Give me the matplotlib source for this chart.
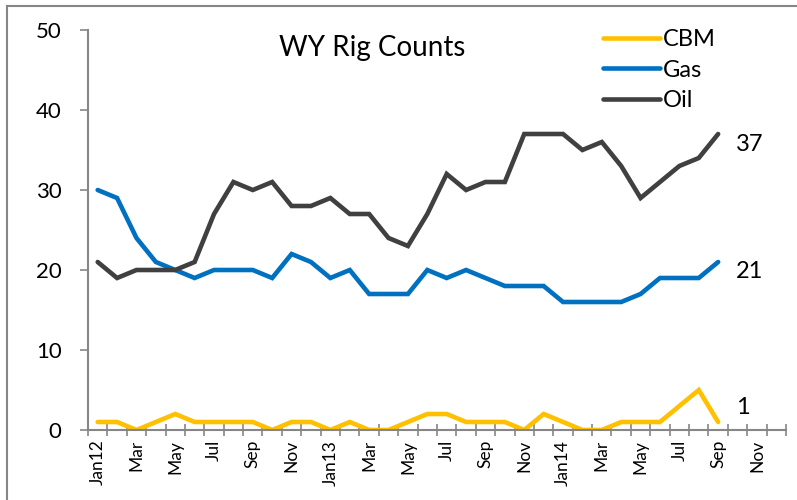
import matplotlib
matplotlib.use("Agg")
import matplotlib.pyplot as plt
import numpy as np
from matplotlib.lines import Line2D

plt.rcParams['font.family'] = ['Lato', 'DejaVu Sans']

# Monthly WY rig counts, Jan 2012 .. Sep 2014
months = ["Jan12", "Feb", "Mar", "Apr", "May", "Jun", "Jul", "Aug", "Sep", "Oct", "Nov", "Dec",
          "Jan13", "Feb", "Mar", "Apr", "May", "Jun", "Jul", "Aug", "Sep", "Oct", "Nov", "Dec",
          "Jan14", "Feb", "Mar", "Apr", "May", "Jun", "Jul", "Aug", "Sep", "Oct", "Nov", "Dec"]
cbm = [1, 1, 0, 1, 2, 1, 1, 1, 1, 0, 1, 1,
       0, 1, 0, 0, 1, 2, 2, 1, 1, 1, 0, 2,
       1, 0, 0, 1, 1, 1, 3, 5, 1]
gas = [30, 29, 24, 21, 20, 19, 20, 20, 20, 19, 22, 21,
       19, 20, 17, 17, 17, 20, 19, 20, 19, 18, 18, 18,
       16, 16, 16, 16, 17, 19, 19, 19, 21]
oil = [21, 19, 20, 20, 20, 21, 27, 31, 30, 31, 28, 28,
       29, 27, 27, 24, 23, 27, 32, 30, 31, 31, 37, 37,
       37, 35, 36, 33, 29, 31, 33, 34, 37]

series = [
    ("CBM", cbm, "#FFC000", (18, 14)),
    ("Gas", gas, "#0070C0", (18, -9)),
    ("Oil", oil, "#404040", (18, -11)),
]

axis_grey = "#868686"

fig = plt.figure(figsize=(7.97, 5.0), dpi=100)
ax = fig.add_axes([0.1104, 0.14, 0.8758, 0.80])

for name, vals, color, offs in series:
    x = np.arange(len(vals))
    ax.plot(x, vals, color=color, lw=3.3, label=name, solid_capstyle="round", solid_joinstyle="miter")
    ax.annotate(str(vals[-1]), xy=(x[-1], vals[-1]), xytext=offs, textcoords="offset pixels",
                ha="left", va="center", fontsize=17, color="black")

ax.set_xlim(-0.5, len(months) - 0.5)
ax.set_ylim(0, 50)
ax.set_yticks(np.arange(0, 51, 10))

# category labels every other month, tick marks on category boundaries
ax.set_xticks(np.arange(0, len(months), 2))
ax.set_xticklabels(months[::2], rotation=90, fontsize=12.5)
ax.set_xticks(np.arange(-0.5, len(months), 1), minor=True)
ax.tick_params(axis="x", which="major", length=0, pad=7)
ax.tick_params(axis="x", which="minor", direction="inout", length=8, width=1.2, color=axis_grey)
ax.tick_params(axis="y", direction="out", length=6, width=1.2, color=axis_grey, pad=13, labelsize=16)

for side in ["top", "right"]:
    ax.spines[side].set_visible(False)
for side in ["left", "bottom"]:
    ax.spines[side].set_color(axis_grey)
    ax.spines[side].set_linewidth(1.5)

ax.text(0.407, 0.955, "WY Rig Counts", transform=ax.transAxes, ha="center", va="center", fontsize=20)

ax.legend(loc="upper left", bbox_to_anchor=(0.738, 1.002), frameon=False, fontsize=17,
          handlelength=2.4, handletextpad=0.15, labelspacing=0.4, borderaxespad=0, borderpad=0)

# chart area border (runs off the right and bottom of the image)
fig.add_artist(Line2D([7 / 797, 1.0], [1 - 6 / 500, 1 - 6 / 500], color=axis_grey, lw=1.5))
fig.add_artist(Line2D([7 / 797, 7 / 797], [0.0, 1 - 6 / 500], color=axis_grey, lw=1.5))

fig.savefig("out.png", dpi=100)
